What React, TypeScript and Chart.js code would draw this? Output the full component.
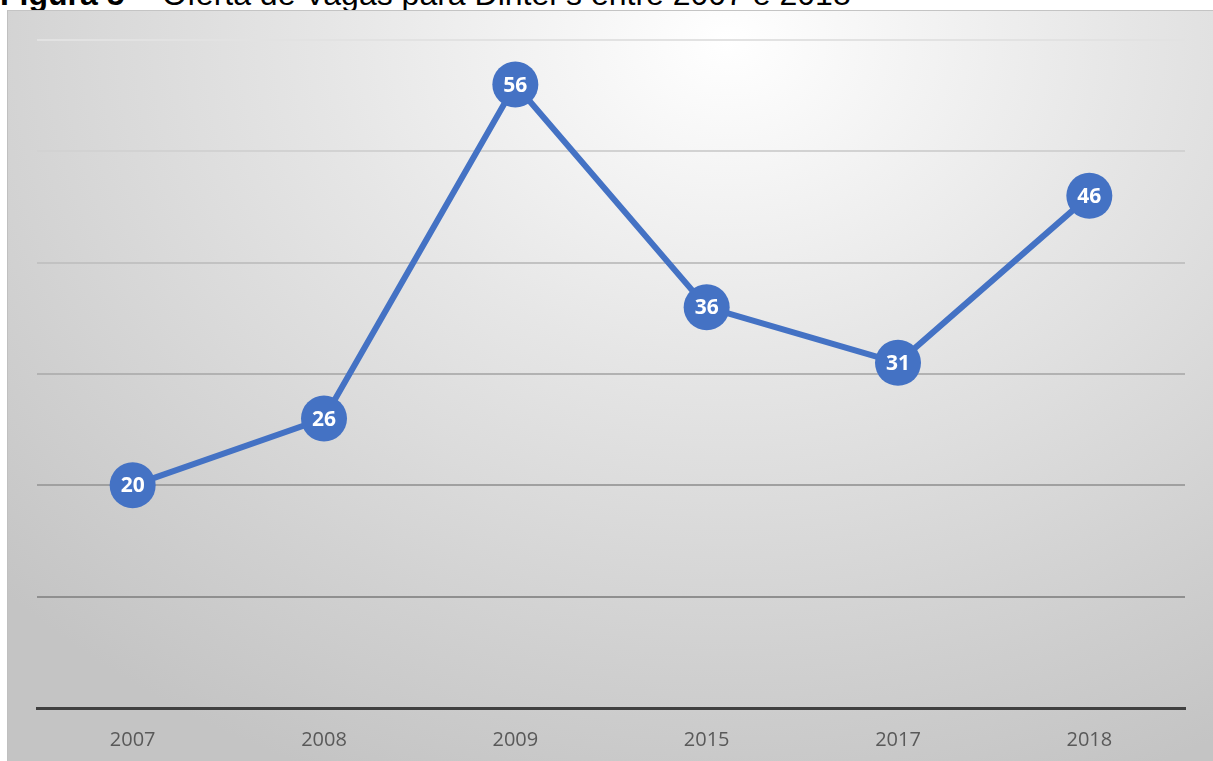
import React, { useEffect, useRef } from "react";
import { Chart, registerables } from "chart.js";

Chart.register(...registerables);

const titleBold = "Figura 5";
const titleRest = "Oferta de Vagas para Dinter's entre 2007 e 2018";
const categories = ["2007", "2008", "2009", "2015", "2017", "2018"];
const vagas = [20, 26, 56, 36, 31, 46];
const yMin = 0;
const yMax = 60;
const yStep = 10;

const gridColors: Record<number, string> = {
  0: "rgba(0,0,0,0)",
  10: "#8f8f8f",
  20: "#a0a0a0",
  30: "#b2b2b2",
  40: "#c2c2c2",
  50: "#d2d2d2",
  60: "#e2e2e2",
};

const labelPlugin = {
  id: "pointLabels",
  afterDatasetsDraw(chart: any) {
    const ctx = chart.ctx;
    const meta = chart.getDatasetMeta(0);
    ctx.save();
    ctx.fillStyle = "#ffffff";
    ctx.font = "bold 21px 'Open Sans'";
    ctx.textAlign = "center";
    ctx.textBaseline = "middle";
    meta.data.forEach((pt: any, i: number) => {
      ctx.fillText(String(chart.data.datasets[0].data[i]), pt.x, pt.y + 1);
    });
    ctx.restore();
  },
};

export default function App() {
  const ref = useRef<HTMLCanvasElement>(null);
  useEffect(() => {
    if (!ref.current) return;
    const chart = new Chart(ref.current, {
      type: "line",
      data: {
        labels: categories,
        datasets: [
          {
            data: vagas,
            borderColor: "#4472C4",
            backgroundColor: "#4472C4",
            borderWidth: 6,
            pointRadius: 23,
            pointHoverRadius: 23,
            pointBorderWidth: 0,
            pointBackgroundColor: "#4472C4",
            tension: 0,
          },
        ],
      },
      options: {
        animation: false,
        responsive: false,
        maintainAspectRatio: false,
        layout: { padding: { left: 29, right: 28, top: 29, bottom: 0 }, autoPadding: false } as any,
        plugins: { legend: { display: false }, tooltip: { enabled: false }, title: { display: false } },
        scales: {
          x: {
            offset: true,
            grid: { display: false, drawTicks: false },
            border: { display: true, color: "#404040", width: 3 },
            ticks: { color: "#595959", font: { family: "'Open Sans'", size: 20 }, padding: 20 },
            afterFit: (s: any) => {
              s.height = 53;
            },
          },
          y: {
            min: yMin,
            max: yMax,
            ticks: { display: false, stepSize: yStep },
            border: { display: false },
            grid: {
              drawTicks: false,
              lineWidth: 2,
              color: (c: any) => gridColors[c.tick?.value] ?? "#b0b0b0",
            },
            afterFit: (s: any) => {
              s.width = 0;
            },
          },
        },
      },
      plugins: [labelPlugin],
    });
    return () => chart.destroy();
  }, []);

  return (
    <div
      style={{
        position: "fixed",
        left: 0,
        top: 0,
        width: 1213,
        height: 761,
        overflow: "hidden",
        background: "#ffffff",
      }}
    >
      <div
        style={{
          position: "absolute",
          left: 0,
          top: -22,
          fontFamily: "'Liberation Sans', Arial, sans-serif",
          fontSize: 32,
          lineHeight: "32px",
          whiteSpace: "nowrap",
          color: "#000",
        }}
      >
        <b>{titleBold}</b>
        <span>{" – "}</span>
        <span style={{ marginLeft: 2 }}>{titleRest}</span>
      </div>
      <div
        style={{
          position: "absolute",
          left: 7,
          top: 10,
          width: 1220,
          height: 760,
          borderTop: "1px solid #c4c4c4",
          borderLeft: "1px solid #c0c0c0",
          background:
            "radial-gradient(ellipse 1000px 800px at 720px 30px, #ffffff 0%, #e6e6e6 40%, #cfcfcf 80%, #c4c4c4 100%)",
        }}
      >
        <canvas ref={ref} width={1205} height={750} style={{ position: "absolute", left: 0, top: 0, width: 1205, height: 750 }} />
      </div>
    </div>
  );
}
